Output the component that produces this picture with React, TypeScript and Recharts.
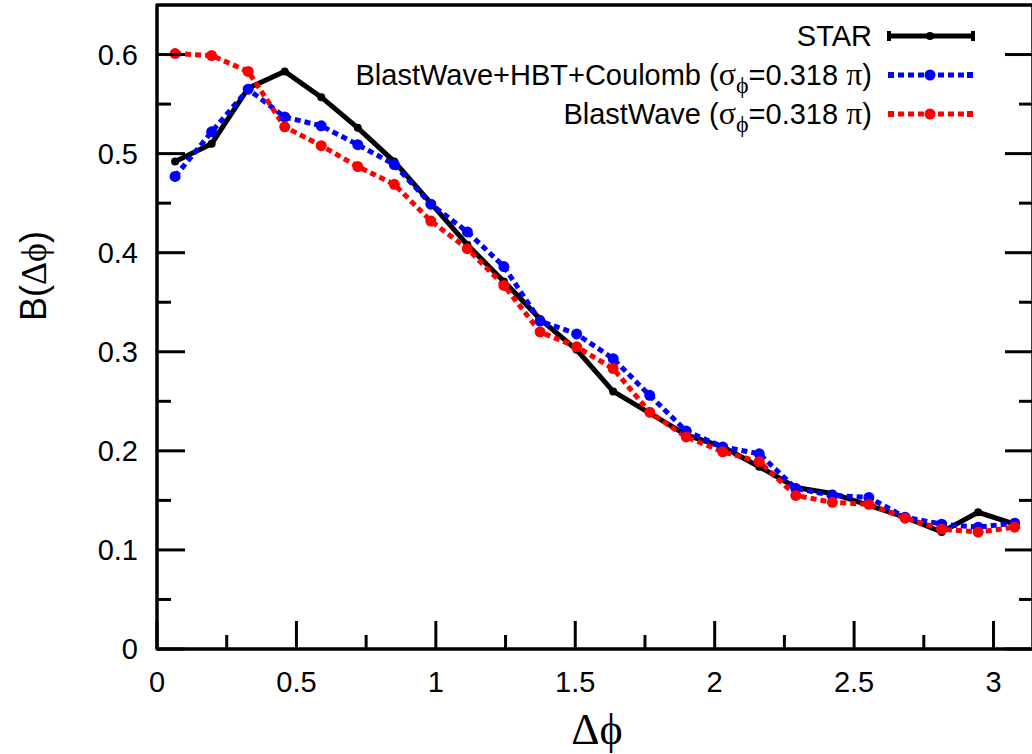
import React from "react";
import { LineChart, Line, XAxis, YAxis } from "recharts";

// Bin centres of delta-phi (rad)
const XS = [0.065, 0.196, 0.327, 0.458, 0.589, 0.72, 0.851, 0.982, 1.113, 1.244, 1.374, 1.505, 1.636, 1.767, 1.898, 2.029, 2.16, 2.291, 2.422, 2.553, 2.683, 2.814, 2.945, 3.076];
const STAR = [0.492, 0.51, 0.566, 0.583, 0.557, 0.526, 0.492, 0.45, 0.408, 0.371, 0.333, 0.302, 0.26, 0.238, 0.216, 0.204, 0.184, 0.163, 0.157, 0.145, 0.133, 0.118, 0.138, 0.126];
const BW_HBT = [0.477, 0.522, 0.565, 0.537, 0.528, 0.509, 0.489, 0.449, 0.421, 0.386, 0.331, 0.318, 0.293, 0.256, 0.22, 0.204, 0.197, 0.162, 0.155, 0.153, 0.133, 0.126, 0.123, 0.127];
const BW = [0.601, 0.599, 0.583, 0.527, 0.508, 0.487, 0.469, 0.432, 0.404, 0.367, 0.32, 0.305, 0.283, 0.239, 0.214, 0.199, 0.189, 0.155, 0.148, 0.146, 0.132, 0.121, 0.118, 0.123];

const X_TICKS = [0, 0.25, 0.5, 0.75, 1, 1.25, 1.5, 1.75, 2, 2.25, 2.5, 2.75, 3];
const X_LABELS = ["0", "", "0.5", "", "1", "", "1.5", "", "2", "", "2.5", "", "3"];
const Y_TICKS = [0, 0.05, 0.1, 0.15, 0.2, 0.25, 0.3, 0.35, 0.4, 0.45, 0.5, 0.55, 0.6];
const Y_LABELS = ["0", "", "0.1", "", "0.2", "", "0.3", "", "0.4", "", "0.5", "", "0.6"];
const X_MAX = 3.1416;
const Y_MAX = 0.65;

const LEGEND = [
  { name: "STAR", color: "#000000", dashed: false },
  { name: "BlastWave+HBT+Coulomb", color: "#0000ff", dashed: true },
  { name: "BlastWave", color: "#ff0000", dashed: true },
];

const data = XS.map((x, i) => ({ x, star: STAR[i], hbt: BW_HBT[i], bw: BW[i] }));

const SANS = "'Liberation Sans', Arial, Helvetica, sans-serif";
const SERIF = "'Liberation Serif', 'DejaVu Serif', serif";
const MAJOR = 28;
const MINOR = 14;
const PHI = "\u03D5";

const BottomTick = (props: any) => {
  const { x, y, index } = props;
  const label = X_LABELS[index];
  const len = label !== "" ? MAJOR : MINOR;
  return (
    <g>
      <line x1={x} y1={y} x2={x} y2={y - len} stroke="#000" strokeWidth={3} />
      {label !== "" && (
        <text x={x} y={y + 43} textAnchor="middle" fontFamily={SANS} fontSize={29} fill="#000">
          {label}
        </text>
      )}
    </g>
  );
};

const LeftTick = (props: any) => {
  const { x, y, index } = props;
  const label = Y_LABELS[index];
  const len = label !== "" ? MAJOR : MINOR;
  return (
    <g>
      <line x1={x} y1={y} x2={x + len} y2={y} stroke="#000" strokeWidth={3} />
      {label !== "" && (
        <text x={x - 19} y={y + 10} textAnchor="end" fontFamily={SANS} fontSize={29} fill="#000">
          {label}
        </text>
      )}
    </g>
  );
};

const RightTick = (props: any) => {
  const { x, y, index } = props;
  const label = Y_LABELS[index];
  const len = label !== "" ? MAJOR : MINOR;
  return (
    <g>
      <line x1={x} y1={y} x2={x - len} y2={y} stroke="#000" strokeWidth={3} />
    </g>
  );
};

export default function App() {
  return (
    <div style={{ position: "absolute", left: 0, top: 0, width: 1032, height: 754, overflow: "hidden", background: "#fff" }}>
      <LineChart width={1034} height={754} data={data} margin={{ top: 4, right: 0, bottom: 0, left: 0 }}>
        <XAxis
          xAxisId="b"
          dataKey="x"
          type="number"
          domain={[0, X_MAX]}
          ticks={X_TICKS}
          interval={0}
          height={105}
          tickSize={0}
          tickMargin={0}
          tickLine={false}
          tick={BottomTick}
          stroke="#000"
          strokeWidth={3}
          axisLine={{ stroke: "#000", strokeWidth: 3 }}
          allowDataOverflow
        />
        <XAxis
          xAxisId="t"
          orientation="top"
          dataKey="x"
          type="number"
          domain={[0, X_MAX]}
          height={1}
          tick={false}
          tickLine={false}
          stroke="#000"
          strokeWidth={3}
          axisLine={{ stroke: "#000", strokeWidth: 3 }}
          allowDataOverflow
        />
        <YAxis
          yAxisId="l"
          type="number"
          domain={[0, Y_MAX]}
          ticks={Y_TICKS}
          interval={0}
          width={157}
          tickSize={0}
          tickMargin={0}
          tickLine={false}
          tick={LeftTick}
          stroke="#000"
          strokeWidth={3}
          axisLine={{ stroke: "#000", strokeWidth: 3 }}
          allowDataOverflow
        />
        <YAxis
          yAxisId="r"
          orientation="right"
          type="number"
          domain={[0, Y_MAX]}
          ticks={Y_TICKS}
          interval={0}
          width={1}
          tickSize={0}
          tickMargin={0}
          tickLine={false}
          tick={RightTick}
          stroke="#000"
          strokeWidth={3}
          axisLine={{ stroke: "#000", strokeWidth: 3 }}
          allowDataOverflow
        />
        <Line
          xAxisId="b"
          yAxisId="l"
          dataKey="star"
          stroke="#000"
          strokeWidth={5}
          dot={{ r: 4, fill: "#000", stroke: "none" }}
          isAnimationActive={false}
          type="linear"
        />
        <Line
          xAxisId="b"
          yAxisId="l"
          dataKey="hbt"
          stroke="#0000ff"
          strokeWidth={5}
          strokeDasharray="6 4"
          dot={{ r: 5.5, fill: "#0000ff", stroke: "none" }}
          isAnimationActive={false}
          type="linear"
        />
        <Line
          xAxisId="t"
          yAxisId="r"
          dataKey="bw"
          stroke="#ff0000"
          strokeWidth={5}
          strokeDasharray="6 4"
          dot={{ r: 5.5, fill: "#ff0000", stroke: "none" }}
          isAnimationActive={false}
          type="linear"
        />
      </LineChart>
      <svg
        width={1032}
        height={754}
        style={{ position: "absolute", left: 0, top: 0, pointerEvents: "none" }}
      >
        <rect x={157} y={5} width={876} height={644} fill="none" stroke="#000" strokeWidth={3} />
        {LEGEND.map((e, i) => {
          const cy = 36 + i * 39;
          return (
            <g key={e.name}>
              <text x={872} y={cy + 10} textAnchor="end" fontFamily={SANS} fontSize={29} fill="#000">
                {e.name}
                {i > 0 && (
                  <>
                    <tspan> (</tspan>
                    <tspan fontFamily={SERIF} fontSize={32}>σ</tspan>
                    <tspan fontFamily={SERIF} fontSize={24} dy={8}>{PHI}</tspan>
                    <tspan dy={-8}>=0.318 </tspan>
                    <tspan fontFamily={SERIF} fontSize={32}>π</tspan>
                    <tspan>)</tspan>
                  </>
                )}
              </text>
              <line
                x1={888}
                y1={cy}
                x2={973}
                y2={cy}
                stroke={e.color}
                strokeWidth={5}
                strokeDasharray={e.dashed ? "6 4" : undefined}
              />
              {e.dashed ? (
                <>
                  <rect x={888} y={cy - 3} width={6} height={6} fill={e.color} />
                  <rect x={967} y={cy - 3} width={6} height={6} fill={e.color} />
                  <circle cx={930} cy={cy} r={5.5} fill={e.color} />
                </>
              ) : (
                <>
                  <rect x={887} y={cy - 5} width={4} height={10} fill={e.color} />
                  <rect x={971} y={cy - 5} width={4} height={10} fill={e.color} />
                  <circle cx={930} cy={cy} r={4} fill={e.color} />
                </>
              )}
            </g>
          );
        })}
        <text x={597} y={744} textAnchor="middle" fontFamily={SERIF} fontSize={44} fill="#000">
          Δ{PHI}
        </text>
        <text
          x={0}
          y={0}
          transform="translate(46,276) rotate(-90)"
          textAnchor="middle"
          fontFamily={SANS}
          fontSize={36}
          fill="#000"
        >
          B(<tspan fontFamily={SERIF}>Δ{PHI}</tspan>)
        </text>
      </svg>
    </div>
  );
}
